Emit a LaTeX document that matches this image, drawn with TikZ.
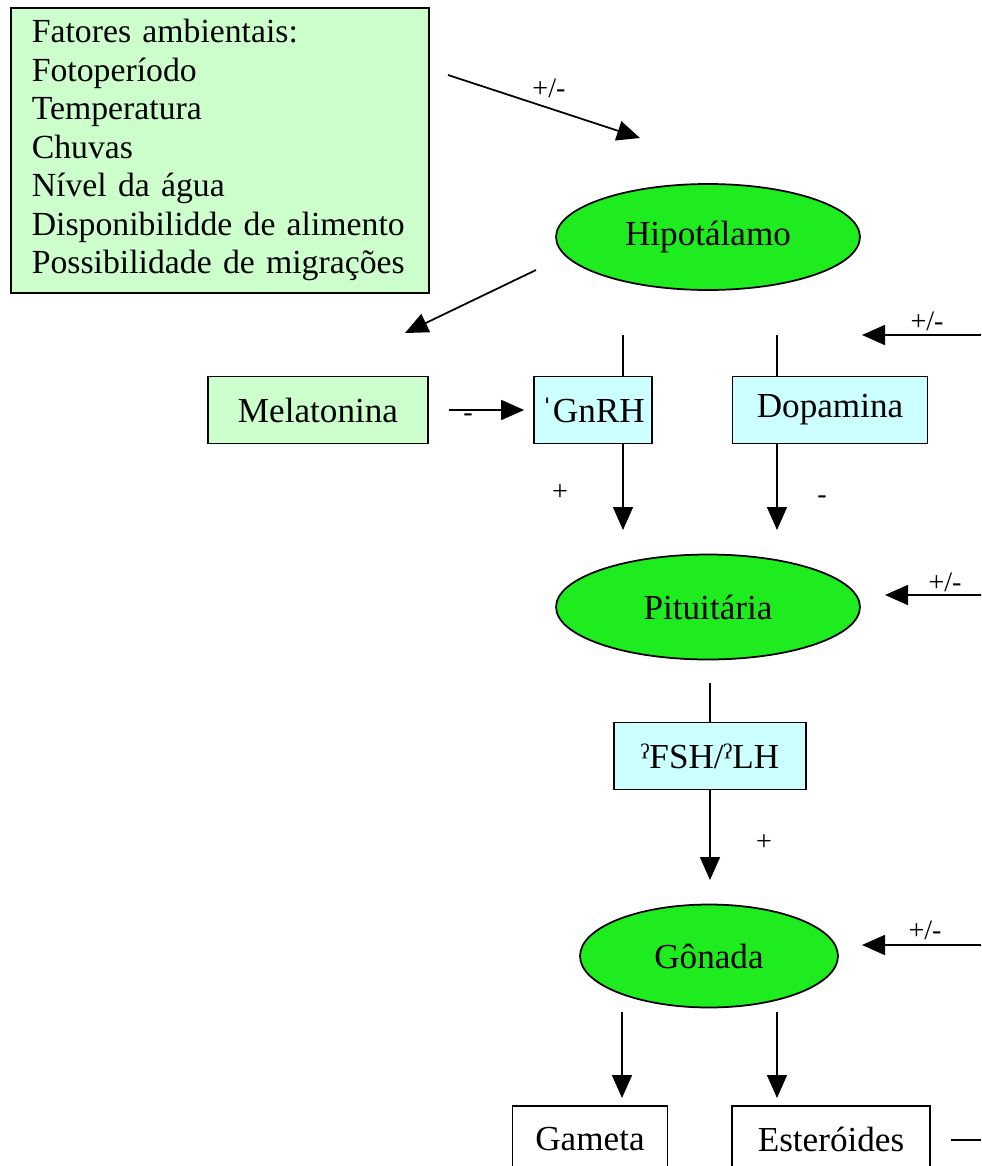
\documentclass[tikz,border=0pt]{standalone}
\usepackage{fontspec}
\setmainfont{Liberation Serif}
\usetikzlibrary{arrows.meta, positioning, shapes.geometric}
\definecolor{glandcolor}{RGB}{30,236,30}
\definecolor{envcolor}{RGB}{204,255,204}
\definecolor{hormcolor}{RGB}{204,255,255}
\tikzset{
  gland/.style={ellipse, draw, line width=1pt, fill=glandcolor, minimum width=6.08cm, minimum height=2.12cm, inner sep=0pt, font=\fontsize{20}{23}\selectfont},
  hormone/.style={rectangle, draw, line width=1pt, fill=hormcolor, minimum height=1.34cm, inner sep=0pt, font=\fontsize{20}{23}\selectfont},
  product/.style={hormone, fill=white, anchor=north},
  feedback/.style={-{Triangle[length=0.46cm,width=0.4cm]}, line width=1pt},
  sign/.style={font=\fontsize{16}{18}\selectfont, inner sep=1pt},
}

\begin{document}
\begin{tikzpicture}[x=0.02cm, y=-0.02cm]
    \useasboundingbox (0,0) rectangle (981,1166);
    \clip (0,0) rectangle (981,1166);

    % Fatores ambientais
    \node[draw, line width=1pt, fill=envcolor, anchor=north west, minimum width=8.36cm, minimum height=5.7cm,
          text width=7.52cm, inner xsep=0.42cm, align=left, font=\fontsize{19.2}{21.9}\selectfont] (env) at (10,7)
        {Fatores ambientais:\\ Fotoperíodo\\ Temperatura\\ Chuvas\\ Nível da água\\ Disponibilidde de alimento\\ Possibilidade de migrações};

    % Glandulas
    \node[gland] (hip) at (708,237) {Hipotálamo};
    \node[gland, minimum height=2.1cm] (pit) at (708,607) {Pituitária};
    \node[gland, minimum width=5.16cm, minimum height=2.06cm] (gon) at (709,956) {Gônada};

    % Hormonios
    \node[hormone, fill=envcolor, minimum width=4.4cm] (mel) at (318,410) {Melatonina};
    \node[hormone, minimum width=2.36cm] (gnrh) at (593,410) {ˈGnRH};
    \node[hormone, minimum width=3.9cm] (dopa) at (830,410) {Dopamina};
    \node[hormone, minimum width=3.84cm] (fsh) at (710,756) {ˀFSH/ˀLH};

    % Produtos
    \node[product, minimum width=3.1cm] (gam) at (590,1105) {Gameta};
    \node[product, minimum width=3.96cm] (est) at (831,1105) {Esteróides};

    % Pontos livres
    \coordinate (envout) at (448,75);
    \coordinate (hipin) at (640,138);
    \coordinate (hipout) at (536,270);
    \coordinate (melin) at (405,333);
    \coordinate (gtop) at (623,335);
    \coordinate (dtop) at (777,335);
    \coordinate (gdown) at (623,530);
    \coordinate (ddown) at (777,530);
    \coordinate (ptop) at (710,683);
    \coordinate (fdown) at (710,880);
    \coordinate (gamin) at (622,1098);
    \coordinate (estin) at (777,1098);
    \coordinate (hipfb) at (990,335);
    \coordinate (pitfb) at (990,595);
    \coordinate (gonfb) at (990,945);
    \coordinate (estfb) at (990,1140);

    % Ambiente -> hipotalamo
    \draw[feedback] (envout) -- (hipin);
    \node[sign] (s1) at (549,88) {+/-};

    % Hipotalamo -> melatonina
    \draw[feedback] (hipout) -- (melin);

    % Melatonina -> GnRH
    \draw[feedback, shorten <=0.4cm, shorten >=0.18cm] (mel) -- (gnrh);
    \node[sign] (s2) at (468,418) {-};

    % Hipotalamo -> GnRH / Dopamina
    \draw[line width=1pt] (gtop) -- (gtop |- gnrh.north);
    \draw[line width=1pt] (dtop) -- (dtop |- dopa.north);
    \draw[feedback] (hipfb) -- (862,335);
    \node[sign] (s3) at (927,321) {+/-};

    % GnRH / Dopamina -> pituitaria
    \draw[feedback] (gtop |- gnrh.south) -- (gdown);
    \node[sign] (s4) at (560,493) {+};
    \draw[feedback] (dtop |- dopa.south) -- (ddown);
    \node[sign] (s5) at (822,500) {-};
    \draw[feedback] (pitfb) -- (885,595);
    \node[sign] (s6) at (945,582) {+/-};

    % Pituitaria -> gonada
    \draw[line width=1pt] (ptop) -- (ptop |- fsh.north);
    \draw[feedback] (ptop |- fsh.south) -- (fdown);
    \node[sign] (s7) at (764,843) {+};
    \draw[feedback] (gonfb) -- (862,945);
    \node[sign] (s8) at (925,930) {+/-};

    % Gonada -> produtos
    \draw[feedback] (622,1012) -- (gamin);
    \draw[feedback] (777,1012) -- (estin);
    \draw[line width=1pt, shorten <=0.4cm] (est.east |- estfb) -- (estfb);
\end{tikzpicture}
\end{document}
